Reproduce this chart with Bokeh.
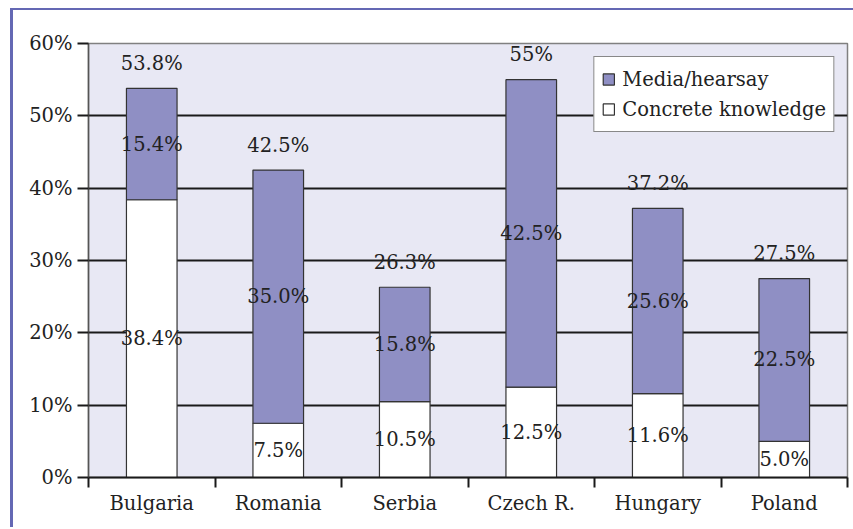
from bokeh.plotting import figure
from bokeh.models import (ColumnDataSource, FixedTicker, PrintfTickFormatter,
                          Legend, LegendItem, Range1d)
from bokeh.core.properties import value
from bokeh.embed import file_html
from bokeh.resources import INLINE

categories = ["Bulgaria", "Romania", "Serbia", "Czech R.", "Hungary", "Poland"]
concrete = [38.4, 7.5, 10.5, 12.5, 11.6, 5.0]
media = [15.4, 35.0, 15.8, 42.5, 25.6, 22.5]
totals = [53.8, 42.5, 26.3, 55.0, 37.2, 27.5]
total_labels = ["53.8%", "42.5%", "26.3%", "55%", "37.2%", "27.5%"]
y_ticks = [0, 10, 20, 30, 40, 50, 60]

FONT = "DejaVu Serif"
FS = "19.5px"
TXT = "#222222"
PURPLE = "#8f8fc4"
BG = "#e8e8f4"

xs = [i + 0.5 for i in range(len(categories))]
src = ColumnDataSource(dict(
    x=xs, concrete=concrete, media=media, totals=totals,
    tl=total_labels,
    cl=["%.1f%%" % v for v in concrete],
    ml=["%.1f%%" % v for v in media],
    cmid=[c / 2 for c in concrete],
    mmid=[c + m / 2 for c, m in zip(concrete, media)],
))

p = figure(frame_width=759, frame_height=434, output_backend="svg",
           toolbar_location=None, x_range=Range1d(0, len(categories)),
           y_range=Range1d(0, 60),
           min_border_left=75, min_border_right=6, min_border_top=33,
           min_border_bottom=50)
p.styles = {"border-left": "3px solid #6468b4", "border-top": "2px solid #6468b4",
            "margin-left": "10px", "margin-top": "8px"}
p.background_fill_color = BG
p.border_fill_color = "white"
p.outline_line_color = "#808080"
p.outline_line_width = 1.5

rs = p.vbar_stack(["concrete", "media"], x="x", width=0.4, source=src,
                  color=["white", PURPLE], line_color="#333333", line_width=1.2)

# labels
common = dict(text_font=value(FONT), text_font_size=FS, text_color=TXT,
              text_align="center", text_baseline="middle", source=src)
p.text(x="x", y="cmid", text="cl", **common)
p.text(x="x", y="mmid", text="ml", **common)
p.text(x="x", y="totals", text="tl", y_offset=-25, **common)

# grid
p.xgrid.visible = False
p.ygrid.ticker = FixedTicker(ticks=y_ticks)
p.ygrid.grid_line_color = "#1a1a1a"
p.ygrid.grid_line_width = 2

# y axis
ya = p.yaxis[0]
ya.ticker = FixedTicker(ticks=y_ticks)
ya.formatter = PrintfTickFormatter(format="%d%%")
ya.major_tick_out = 11
ya.major_tick_in = 0
ya.major_tick_line_width = 2
ya.major_tick_line_color = "#1a1a1a"
ya.minor_tick_line_color = None
ya.axis_line_color = "#555555"
ya.axis_line_width = 1.5
ya.major_label_standoff = 5
ya.major_label_text_font = FONT
ya.major_label_text_font_size = FS
ya.major_label_text_color = TXT

# x axis
xa = p.xaxis[0]
xa.ticker = FixedTicker(ticks=xs, minor_ticks=list(range(len(categories) + 1)))
xa.major_label_overrides = {x: c for x, c in zip(xs, categories)}
xa.major_tick_out = 0
xa.major_tick_in = 0
xa.minor_tick_out = 10
xa.minor_tick_in = 0
xa.minor_tick_line_width = 2
xa.minor_tick_line_color = "#1a1a1a"
xa.axis_line_color = "#1a1a1a"
xa.axis_line_width = 2
xa.major_label_standoff = 4
xa.major_label_text_font = FONT
xa.major_label_text_font_size = FS
xa.major_label_text_color = TXT

legend = Legend(items=[LegendItem(label="Media/hearsay", renderers=[rs[1]]),
                       LegendItem(label="Concrete knowledge", renderers=[rs[0]])],
                location="top_right")
legend.margin = 13
legend.padding = 7
legend.spacing = 0
legend.label_height = 30
legend.glyph_width = 14
legend.glyph_height = 14
legend.label_standoff = 7
legend.label_text_font = FONT
legend.label_text_font_size = FS
legend.label_text_color = TXT
legend.border_line_color = "#111111"
legend.border_line_width = 1
legend.background_fill_color = "white"
legend.background_fill_alpha = 1.0
p.add_layout(legend)

open("out.html", "w").write(file_html(p, INLINE))
